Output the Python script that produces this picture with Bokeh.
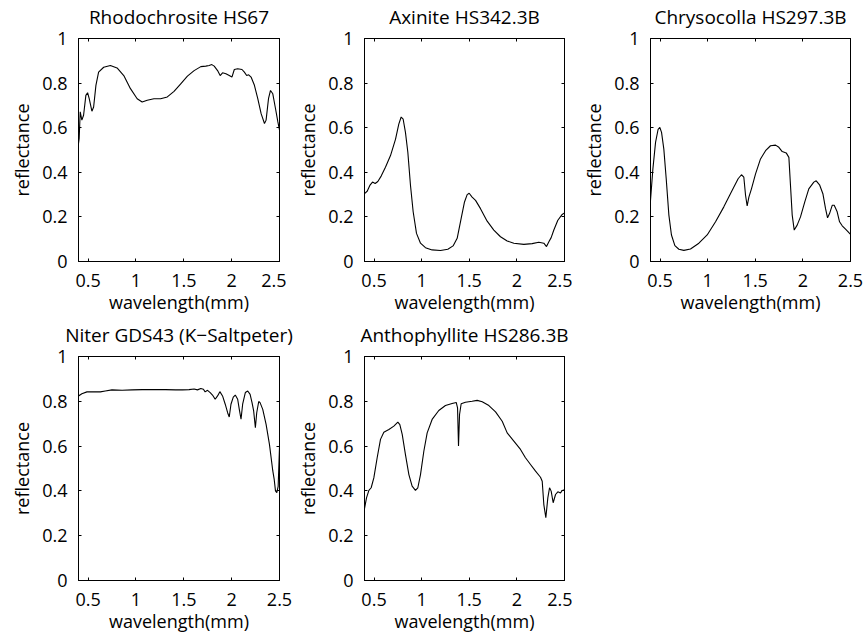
from bokeh.plotting import figure
from bokeh.layouts import column, row
from bokeh.models import LinearAxis, FixedTicker, CustomJSTickFormatter, Range1d
from bokeh.embed import file_html
from bokeh.resources import INLINE

# ---------------- data ----------------
titles = ["Rhodochrosite HS67", "Axinite HS342.3B", "Chrysocolla HS297.3B",
          "Niter GDS43 (K\u2212Saltpeter)", "Anthophyllite HS286.3B"]
x_label = "wavelength(mm)"
y_label = "reflectance"
x_ticks = [0.5, 1.0, 1.5, 2.0, 2.5]
y_ticks = [0.0, 0.2, 0.4, 0.6, 0.8, 1.0]

rhodo_wl = [0.400, 0.407, 0.418, 0.435, 0.453, 0.477, 0.495, 0.512, 0.540, 0.558,
            0.582, 0.610, 0.663, 0.733, 0.803, 0.873, 0.943, 1.013, 1.065, 1.118,
            1.188, 1.258, 1.328, 1.398, 1.468, 1.538, 1.608, 1.678, 1.730, 1.765,
            1.793, 1.818, 1.853, 1.880, 1.905, 1.940, 1.975, 2.003, 2.028, 2.063,
            2.108, 2.133, 2.157, 2.178, 2.203, 2.238, 2.273, 2.308, 2.343, 2.360,
            2.385, 2.406, 2.430, 2.458, 2.483, 2.500]
rhodo_r = [0.530, 0.552, 0.671, 0.634, 0.656, 0.745, 0.757, 0.730, 0.674, 0.693,
           0.790, 0.849, 0.871, 0.879, 0.868, 0.834, 0.775, 0.730, 0.715, 0.723,
           0.730, 0.730, 0.738, 0.763, 0.797, 0.831, 0.856, 0.874, 0.876, 0.879,
           0.883, 0.876, 0.856, 0.834, 0.846, 0.842, 0.834, 0.827, 0.861, 0.864,
           0.861, 0.849, 0.834, 0.837, 0.827, 0.790, 0.730, 0.663, 0.619, 0.634,
           0.730, 0.767, 0.752, 0.686, 0.626, 0.589]

axin_wl = [0.400, 0.428, 0.456, 0.484, 0.512, 0.540, 0.575, 0.620, 0.673, 0.726,
           0.760, 0.785, 0.806, 0.830, 0.855, 0.883, 0.911, 0.946, 0.988, 1.040,
           1.110, 1.198, 1.275, 1.330, 1.373, 1.415, 1.450, 1.478, 1.499, 1.530,
           1.566, 1.618, 1.688, 1.758, 1.828, 1.898, 1.968, 2.073, 2.160, 2.230,
           2.283, 2.311, 2.336, 2.360, 2.388, 2.430, 2.476, 2.500]
axin_r = [0.304, 0.315, 0.341, 0.356, 0.350, 0.359, 0.383, 0.423, 0.475, 0.549,
          0.616, 0.648, 0.638, 0.579, 0.490, 0.341, 0.223, 0.126, 0.082, 0.062,
          0.052, 0.049, 0.055, 0.070, 0.104, 0.193, 0.267, 0.300, 0.306, 0.289,
          0.274, 0.237, 0.181, 0.141, 0.111, 0.092, 0.082, 0.077, 0.080, 0.086,
          0.082, 0.067, 0.089, 0.107, 0.141, 0.185, 0.211, 0.218]

chry_wl = [0.400, 0.425, 0.453, 0.480, 0.498, 0.516, 0.540, 0.565, 0.593, 0.620,
           0.656, 0.698, 0.750, 0.820, 0.908, 0.995, 1.083, 1.170, 1.258, 1.320,
           1.355, 1.380, 1.398, 1.415, 1.433, 1.460, 1.503, 1.555, 1.608, 1.660,
           1.713, 1.748, 1.783, 1.825, 1.853, 1.870, 1.888, 1.909, 1.940, 1.975,
           2.020, 2.062, 2.115, 2.140, 2.175, 2.210, 2.238, 2.259, 2.280, 2.308,
           2.329, 2.360, 2.385, 2.413, 2.448, 2.500]
chry_r = [0.274, 0.415, 0.534, 0.593, 0.601, 0.579, 0.504, 0.371, 0.208, 0.119,
          0.071, 0.055, 0.050, 0.056, 0.082, 0.119, 0.178, 0.245, 0.319, 0.371,
          0.389, 0.378, 0.297, 0.249, 0.289, 0.326, 0.393, 0.460, 0.497, 0.519,
          0.522, 0.512, 0.493, 0.487, 0.467, 0.341, 0.208, 0.141, 0.163, 0.200,
          0.267, 0.326, 0.356, 0.362, 0.344, 0.304, 0.237, 0.196, 0.215, 0.252,
          0.252, 0.223, 0.178, 0.160, 0.145, 0.122]

niter_wl = [0.400, 0.435, 0.488, 0.558, 0.628, 0.680, 0.750, 0.855, 0.960, 1.065,
            1.205, 1.310, 1.415, 1.485, 1.555, 1.608, 1.643, 1.678, 1.705, 1.723,
            1.748, 1.776, 1.800, 1.828, 1.853, 1.877, 1.905, 1.933, 1.958, 1.975,
            1.993, 2.017, 2.038, 2.063, 2.080, 2.098, 2.115, 2.143, 2.168, 2.193,
            2.213, 2.230, 2.248, 2.262, 2.283, 2.297, 2.325, 2.360, 2.395, 2.430,
            2.445, 2.458, 2.472, 2.486, 2.500]
niter_r = [0.824, 0.834, 0.842, 0.842, 0.842, 0.846, 0.851, 0.849, 0.851, 0.852,
           0.852, 0.852, 0.851, 0.851, 0.852, 0.855, 0.851, 0.857, 0.854, 0.842,
           0.849, 0.839, 0.828, 0.809, 0.824, 0.843, 0.824, 0.787, 0.749, 0.730,
           0.787, 0.819, 0.828, 0.809, 0.764, 0.720, 0.787, 0.839, 0.846, 0.831,
           0.794, 0.757, 0.682, 0.749, 0.799, 0.794, 0.764, 0.697, 0.608, 0.489,
           0.450, 0.400, 0.392, 0.420, 0.595]

antho_wl = [0.400, 0.421, 0.446, 0.470, 0.498, 0.533, 0.568, 0.603, 0.656, 0.708,
            0.750, 0.771, 0.796, 0.830, 0.866, 0.900, 0.935, 0.960, 0.988, 1.023,
            1.058, 1.110, 1.180, 1.250, 1.320, 1.363, 1.377, 1.387, 1.398, 1.415,
            1.460, 1.530, 1.583, 1.636, 1.706, 1.776, 1.846, 1.898, 1.968, 2.038,
            2.090, 2.143, 2.196, 2.248, 2.266, 2.283, 2.304, 2.325, 2.343, 2.360,
            2.381, 2.406, 2.430, 2.458, 2.476, 2.500]
antho_r = [0.321, 0.369, 0.402, 0.414, 0.458, 0.548, 0.630, 0.662, 0.674, 0.689,
           0.707, 0.696, 0.652, 0.562, 0.473, 0.421, 0.402, 0.414, 0.473, 0.577,
           0.659, 0.719, 0.759, 0.781, 0.790, 0.795, 0.771, 0.600, 0.741, 0.789,
           0.796, 0.800, 0.804, 0.798, 0.781, 0.753, 0.711, 0.659, 0.622, 0.585,
           0.548, 0.518, 0.488, 0.461, 0.443, 0.339, 0.280, 0.369, 0.414, 0.399,
           0.347, 0.384, 0.396, 0.391, 0.402, 0.405]

series = [(rhodo_wl, rhodo_r), (axin_wl, axin_r), (chry_wl, chry_r),
          (niter_wl, niter_r), (antho_wl, antho_r)]

# ---------------- styling ----------------
FONT = "Open Sans"
FS = "18px"
TFS = "19px"
fmt_code = "return String(Math.round(tick*10)/10);"


def make(i, width, bl, br, bt, bb, height):
    xs, ys = series[i]
    p = figure(width=width, height=height, output_backend="svg", toolbar_location=None,
               x_range=Range1d(0.4, 2.5), y_range=Range1d(0, 1),
               min_border_left=bl, min_border_right=br,
               min_border_top=bt, min_border_bottom=bb,
               x_axis_label=x_label, y_axis_label=y_label)
    p.xgrid.visible = False
    p.ygrid.visible = False
    p.outline_line_color = "black"
    p.background_fill_color = "white"
    p.border_fill_color = "white"
    p.title.visible = False

    xt = FixedTicker(ticks=x_ticks)
    yt = FixedTicker(ticks=y_ticks)
    fmt = CustomJSTickFormatter(code=fmt_code)

    bottom = p.below[0]
    left = p.left[0]
    # the panel title is carried by the top axis
    top = LinearAxis(ticker=xt, axis_label=titles[i])
    right = LinearAxis(ticker=yt)
    p.add_layout(top, "above")
    p.add_layout(right, "right")

    for ax, t, lab, so in [(bottom, xt, True, 12), (left, yt, True, 11),
                           (top, xt, False, 0), (right, yt, False, 0)]:
        ax.ticker = t
        ax.formatter = fmt
        ax.axis_line_color = "black"
        ax.major_tick_line_color = "black"
        ax.major_tick_in = 3
        ax.major_tick_out = 0
        ax.minor_tick_line_color = None
        ax.major_label_text_font = FONT
        ax.axis_label_text_font = FONT
        ax.axis_label_text_font_size = FS
        ax.axis_label_text_font_style = "normal"
        ax.axis_label_text_color = "black"
        ax.major_label_standoff = so
        if lab:
            ax.major_label_text_font_size = FS
            ax.major_label_text_color = "black"
        else:
            ax.major_label_text_font_size = "0px"
            ax.major_label_text_color = None
    bottom.axis_label_standoff = 0
    left.axis_label_standoff = 5
    top.axis_label_text_font_size = TFS
    top.axis_label_standoff = 9

    p.line(xs, ys, line_color="black", line_width=1.1)
    return p


p1 = make(0, 286, 78, 7, 36, 57, 318)
p2 = make(1, 286, 78, 8, 36, 57, 318)
p3 = make(2, 293, 78, 15, 36, 57, 318)
p4 = make(3, 293, 78, 14, 38, 56, 318)
p5 = make(4, 279, 71, 8, 38, 56, 318)

layout = column(row(p1, p2, p3, spacing=0), row(p4, p5, spacing=0), spacing=0)

open("out.html", "w").write(file_html(layout, INLINE))
